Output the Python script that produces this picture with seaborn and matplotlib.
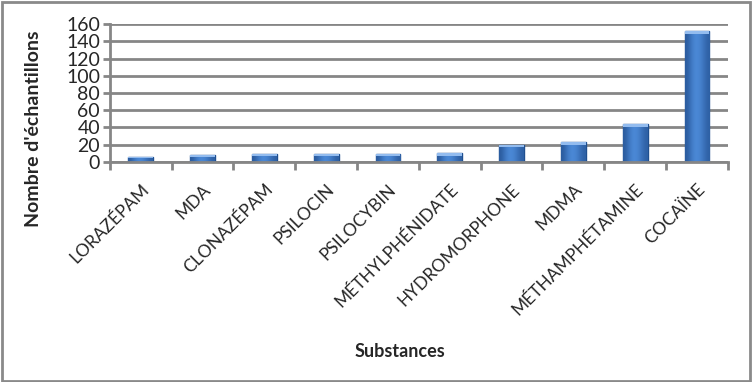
import matplotlib
matplotlib.use('Agg')
import matplotlib.pyplot as plt
import matplotlib.patches as patches
import seaborn as sns
import numpy as np
import pandas as pd

substances = ['LORAZÉPAM', 'MDA', 'CLONAZÉPAM', 'PSILOCIN', 'PSILOCYBIN',
              'MÉTHYLPHÉNIDATE', 'HYDROMORPHONE', 'MDMA', 'MÉTHAMPHÉTAMINE', 'COCAÏNE']
echantillons = [6, 8, 9, 9, 9, 10, 20, 23, 44, 152]
yticks = [0, 20, 40, 60, 80, 100, 120, 140, 160]

df = pd.DataFrame({'substance': substances, 'n': echantillons})

sns.set_style('white')
plt.rcParams['font.family'] = ['Lato', 'DejaVu Sans']

fig = plt.figure(figsize=(7.52, 3.82), dpi=100)
ax = fig.add_axes([0.146, 0.576, 0.822, 0.361])

# gridlines
for y in yticks:
    ax.axhline(y, color='#868686', lw=2, zorder=0)

sns.barplot(df, x='substance', y='n', color='#3a70bd', width=0.4,
            edgecolor='#1f4f8f', linewidth=1, saturation=1, ax=ax, zorder=3)

ax.set_ylim(0, 160)
ax.set_xlim(-0.5, len(substances) - 0.5)

# excel-like shading on the bars
grad = np.array([[0.0, 0.6, 1.0, 0.9, 0.5, 0.1]])
cmap = matplotlib.colors.LinearSegmentedColormap.from_list('bev', ['#2b5c9f', '#4c8ad8'])
for bar in ax.patches:
    x0, y0 = bar.get_x(), bar.get_y()
    w, h = bar.get_width(), bar.get_height()
    im = ax.imshow(grad, cmap=cmap, aspect='auto', extent=[x0, x0 + w, y0, y0 + h],
                   zorder=3.5, interpolation='bicubic')
    im.set_clip_path(bar)
    cap = min(h * 0.25, 3)
    ax.fill_between([x0, x0 + w], y0 + h - cap, y0 + h, color='#93bcef', zorder=3.6, lw=0)
ax.set_xlim(-0.5, len(substances) - 0.5)
ax.set_ylim(0, 160)

ax.set_yticks(yticks)
ax.tick_params(axis='y', labelsize=14, length=5, width=2, color='#868686', pad=2, left=True)
ax.set_xticks([i - 0.5 for i in range(len(substances) + 1)], minor=False)
ax.set_xticklabels([''] * (len(substances) + 1))
ax.set_xticks(range(len(substances)), minor=True)
ax.set_xticklabels(substances, minor=True, rotation=45, ha='right',
                   rotation_mode='anchor', fontsize=12.5)
ax.tick_params(axis='x', which='major', length=6, width=2, color='#868686', bottom=True)
ax.tick_params(axis='x', which='minor', length=0, pad=14)

for s in ['top', 'right']:
    ax.spines[s].set_visible(False)
for s in ['left', 'bottom']:
    ax.spines[s].set_color('#868686')
    ax.spines[s].set_linewidth(2)
    ax.spines[s].set_zorder(4)

ax.set_xlabel('Substances', fontsize=13, fontweight='bold')
ax.set_ylabel("Nombre d'échantillons", fontsize=14, fontweight='bold')
ax.xaxis.set_label_coords(0.469, -1.31)
ax.yaxis.set_label_coords(-0.11, 0.24)

fig.patches.append(patches.Rectangle((0.002, 0.003), 0.995, 0.992, transform=fig.transFigure,
                                     fill=False, edgecolor='#8a8a8a', lw=2))

fig.savefig('out.png', dpi=100)
